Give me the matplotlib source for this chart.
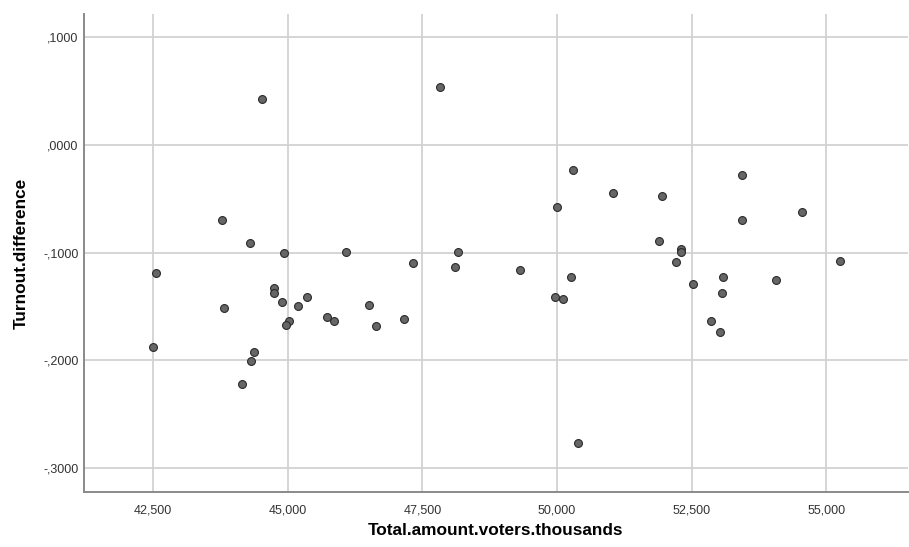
import matplotlib.pyplot as plt
from matplotlib.ticker import FuncFormatter

# 투표자 수(천 명)와 투표율 차이
voters = [44523, 43786, 44295, 44937, 46077, 47320, 42556, 44740, 44740, 43824,
          44900, 45364, 45186, 45019, 44969, 45722, 45859, 46509, 46645, 47165,
          42506, 44375, 44313, 44157, 47827, 48161, 48105,
          50295, 53437, 51032, 51940, 49993, 54551, 53431, 51891, 52300, 52305,
          55250, 52213, 49311, 50258, 53083, 54054, 52517, 53061, 49961, 50104,
          52861, 53028, 50388]
turnout_diff = [0.0427, -0.0696, -0.0907, -0.1003, -0.0993, -0.1093, -0.1192, -0.1328, -0.1371, -0.1517,
                -0.1455, -0.1415, -0.1495, -0.1631, -0.1671, -0.1600, -0.1631, -0.1489, -0.1678, -0.1613,
                -0.1876, -0.1922, -0.2003, -0.2216, 0.0541, -0.0997, -0.1130,
                -0.0232, -0.0279, -0.0443, -0.0474, -0.0578, -0.0619, -0.0696, -0.0894, -0.0963, -0.0991,
                -0.1077, -0.1083, -0.1157, -0.1223, -0.1228, -0.1256, -0.1291, -0.1371, -0.1411, -0.1432,
                -0.1636, -0.1733, -0.2767]

x_ticks = [42500, 45000, 47500, 50000, 52500, 55000]
y_ticks = [0.1, 0.0, -0.1, -0.2, -0.3]

plt.rcParams['font.family'] = ['Liberation Sans', 'DejaVu Sans']

fig = plt.figure(figsize=(9.09, 5.47), dpi=100)
ax = fig.add_axes([84 / 909, 55 / 547, 824 / 909, 478 / 547])

ax.scatter(voters, turnout_diff, s=32, c='#666666', edgecolors='#2a2a2a',
           linewidths=0.8, zorder=3)

ax.set_xlim(41219, 56513)
ax.set_ylim(-0.3222, 0.1216)
ax.set_xticks(x_ticks)
ax.set_yticks(y_ticks)
ax.xaxis.set_major_formatter(FuncFormatter(lambda v, p: f'{v:,.0f}'))


def y_fmt(v, p):
    s = f'{abs(v):.4f}'.replace('0.', ',', 1)
    return ('-' if v < -1e-9 else '') + s


ax.yaxis.set_major_formatter(FuncFormatter(y_fmt))

ax.grid(True, color='#d2d2d2', linewidth=1.3, zorder=0)
ax.set_axisbelow(True)
for side in ['top', 'right']:
    ax.spines[side].set_visible(False)
for side in ['left', 'bottom']:
    ax.spines[side].set_color('#8a8a8a')
    ax.spines[side].set_linewidth(1.4)

ax.tick_params(axis='both', length=0, labelsize=9, colors='#333333')
ax.tick_params(axis='x', pad=9)
ax.tick_params(axis='y', pad=4)

ax.set_xlabel('Total.amount.voters.thousands', fontsize=12.4, fontweight='bold', labelpad=5)
ax.set_ylabel('Turnout.difference', fontsize=12.4, fontweight='bold', labelpad=10)

fig.savefig('out.png', dpi=100)
